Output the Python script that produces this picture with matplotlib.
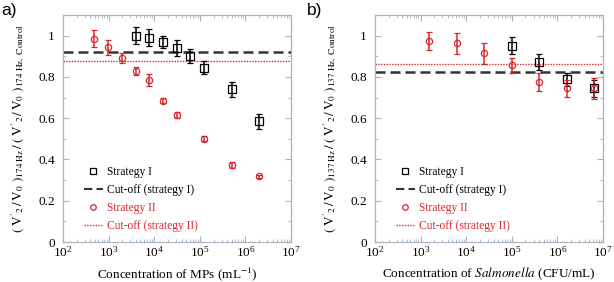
import matplotlib
matplotlib.use("Agg")
import matplotlib.pyplot as plt
from matplotlib.lines import Line2D
from matplotlib.ticker import MultipleLocator, LogLocator

plt.rcParams["font.family"] = ["Liberation Serif", "DejaVu Serif"]
plt.rcParams["mathtext.fontset"] = "stix"

RED = "#d8262b"
DARK = "#333333"
FRAME = "#a8b4c0"

# panel a) microparticles
mp_conc_1 = [3.9e3, 7.8e3, 1.56e4, 3.125e4, 6.25e4, 1.25e5, 5e5, 2e6]
mp_ratio_1 = [1.00, 0.99, 0.968, 0.94, 0.90, 0.845, 0.74, 0.585]
mp_err_1 = [0.04, 0.04, 0.03, 0.04, 0.035, 0.03, 0.035, 0.035]
mp_conc_2 = [488, 977, 1953, 3906, 7812, 1.5625e4, 3.125e4, 1.25e5, 5e5, 2e6]
mp_ratio_2 = [0.985, 0.943, 0.893, 0.83, 0.785, 0.685, 0.617, 0.50, 0.372, 0.318]
mp_err_2 = [0.04, 0.035, 0.025, 0.02, 0.03, 0.012, 0.015, 0.012, 0.015, 0.006]
mp_cutoff_1 = 0.922
mp_cutoff_2 = 0.878

# panel b) Salmonella
sal_conc_1 = [1e5, 4e5, 1.6e6, 6.4e6]
sal_ratio_1 = [0.951, 0.873, 0.788, 0.745]
sal_err_1 = [0.04, 0.04, 0.03, 0.04]
sal_conc_2 = [1.5625e3, 6.25e3, 2.5e4, 1e5, 4e5, 1.6e6, 6.4e6]
sal_ratio_2 = [0.974, 0.963, 0.914, 0.856, 0.776, 0.744, 0.745]
sal_err_2 = [0.045, 0.05, 0.05, 0.035, 0.045, 0.04, 0.05]
sal_cutoff_1 = 0.825
sal_cutoff_2 = 0.862

legend_labels = ["Strategy I", "Cut-off (strategy I)", "Strategy II", "Cut-off (strategy II)"]

fig = plt.figure(figsize=(6.14, 2.82), dpi=100)
ax_a = fig.add_axes([0.1026, 0.1418, 0.3713, 0.805])
ax_b = fig.add_axes([0.6107, 0.1418, 0.3713, 0.805])


def draw_panel(ax, c1, r1, e1, c2, r2, e2, cut1, cut2, hz, xlabel):
    ax.errorbar(c1, r1, yerr=e1, fmt="s", mfc="none", mec="black", ms=5.5,
                mew=0.9, ecolor="black", elinewidth=1.1, capsize=2, zorder=3)
    ax.axhline(cut1, color=DARK, lw=1.8, ls=(0, (4, 2)))
    ax.errorbar(c2, r2, yerr=e2, fmt="o", mfc="none", mec=RED, ms=4.5,
                mew=0.9, ecolor=RED, elinewidth=1.1, capsize=2, zorder=3)
    ax.axhline(cut2, color=RED, lw=1.0, ls=(0, (1, 1)))

    ax.set_xscale("log")
    ax.set_xlim(1e2, 1e7)
    ax.set_ylim(0, 1.1)
    ax.xaxis.set_major_locator(LogLocator(base=10, numticks=10))
    ax.xaxis.set_minor_locator(LogLocator(base=10, subs=range(2, 10), numticks=20))
    ax.yaxis.set_minor_locator(MultipleLocator(0.1))
    ax.set_yticks([0, 0.2, 0.4, 0.6, 0.8, 1.0])
    ax.set_yticklabels(["0", "0.2", "0.4", "0.6", "0.8", "1"])
    ax.tick_params(which="both", direction="in", top=True, right=True,
                   color=FRAME, labelsize=9.5)
    ax.tick_params(axis="x", pad=2.5)
    ax.tick_params(axis="y", pad=6)
    ax.tick_params(which="major", length=4)
    ax.tick_params(which="minor", length=2)
    for sp in ax.spines.values():
        sp.set_color(FRAME)
        sp.set_linewidth(0.9)

    ax.set_xlabel(xlabel, fontsize=9.5, labelpad=4)
    ylabel = (r"$(\ \mathrm{V'}_{2}\,/\,\mathrm{V}_{0}\ )_{\mathrm{" + hz + r"\ Hz}}"
              r"\,/\,(\ \mathrm{V'}_{2}\,/\,\mathrm{V}_{0}\ )_{\mathrm{" + hz +
              r"\ Hz,\ Control}}$")
    ax.set_ylabel(ylabel, fontsize=9.5, labelpad=8)

    handles = [
        Line2D([], [], ls="none", marker="s", mfc="none", mec="black", ms=4.5, mew=0.9),
        Line2D([], [], color=DARK, lw=1.5, ls=(0, (4, 2))),
        Line2D([], [], ls="none", marker="o", mfc="none", mec=RED, ms=4, mew=0.9),
        Line2D([], [], color=RED, lw=1.0, ls=(0, (1, 1))),
    ]
    leg = ax.legend(handles, legend_labels, loc="lower left",
                    bbox_to_anchor=(0.07, 0.025), frameon=False,
                    fontsize=8.3, handlelength=1.7, handletextpad=0.3,
                    labelspacing=0.5, borderaxespad=0)
    for txt, col in zip(leg.get_texts(), ["black", "black", RED, RED]):
        txt.set_color(col)


draw_panel(ax_a, mp_conc_1, mp_ratio_1, mp_err_1, mp_conc_2, mp_ratio_2, mp_err_2,
           mp_cutoff_1, mp_cutoff_2, "174", r"Concentration of MPs (mL$^{-1}$)")
draw_panel(ax_b, sal_conc_1, sal_ratio_1, sal_err_1, sal_conc_2, sal_ratio_2, sal_err_2,
           sal_cutoff_1, sal_cutoff_2, "137",
           r"Concentration of $\mathit{Salmonella}$ (CFU/mL)")

fig.text(0.002, 0.99, "a)", fontsize=12.5, family="Liberation Sans", va="top", ha="left")
fig.text(0.5, 0.99, "b)", fontsize=12.5, family="Liberation Sans", va="top", ha="left")

fig.savefig("out.png", dpi=100)
